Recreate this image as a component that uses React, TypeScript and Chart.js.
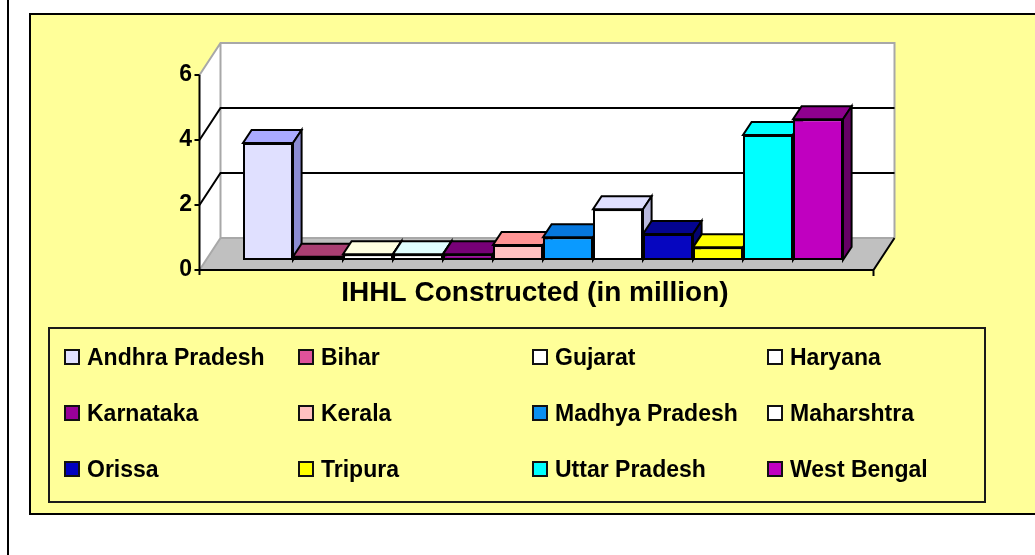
import React, { useEffect, useRef } from 'react';
import { Chart, registerables } from 'chart.js';

Chart.register(...registerables);

const CATEGORY = 'IHHL Constructed (in million)';
const STATES = [
  'Andhra Pradesh', 'Bihar', 'Gujarat', 'Haryana',
  'Karnataka', 'Kerala', 'Madhya Pradesh', 'Maharshtra',
  'Orissa', 'Tripura', 'Uttar Pradesh', 'West Bengal',
];
const VALUES = [3.6, 0.1, 0.18, 0.18, 0.18, 0.46, 0.7, 1.56, 0.8, 0.39, 3.85, 4.33];
const FRONT_COLORS = [
  '#E0E0FF', '#E0529A', '#FFFFFF', '#FFFFFF',
  '#990099', '#FFC0C0', '#0A9AFF', '#FFFFFF',
  '#0606C0', '#FFFF00', '#00FFFF', '#C000C0',
];
const TOP_COLORS = [
  '#AAAAFF', '#AA3F73', '#FFFFE0', '#E0FFFF',
  '#770077', '#FF9494', '#0677DD', '#E0E0FF',
  '#040490', '#FFFF00', '#00FFFF', '#8E008E',
];
const SIDE_COLORS = [
  '#8C8CD4', '#80305A', '#D8D8B8', '#B8D8D8',
  '#5A005A', '#D07878', '#055CAA', '#B8B8DD',
  '#030370', '#C8C800', '#00C8C8', '#660066',
];
const LEGEND_COLORS = [
  '#E0E0FF', '#E0529A', '#FFFFFF', '#FFFFFF',
  '#990099', '#FFC0C0', '#0A90F0', '#FFFFFF',
  '#0000C0', '#FFFF00', '#00FFFF', '#C000C0',
];
const Y_MIN = 0;
const Y_MAX = 6;
const Y_STEP = 2;

const FONT = '"Liberation Sans", Arial, Helvetica, sans-serif';

// 3D projection offsets relative to the bar plane (chart area)
const FRONT = { dx: -6.5, dy: 10 };
const BACK = { dx: 14.5, dy: -22 };
const BAR_DEPTH = { dx: 8.6, dy: -13 };

const threeD = {
  id: 'threeD',
  beforeDatasetsDraw(chart: any) {
    const { ctx, chartArea } = chart;
    const y = chart.scales.y;
    const { left, right } = chartArea;
    const fl = left + FRONT.dx, fr = right + FRONT.dx;
    const bl = left + BACK.dx, br = right + BACK.dx;
    const yf = (v: number) => y.getPixelForValue(v) + FRONT.dy;
    const yb = (v: number) => y.getPixelForValue(v) + BACK.dy;
    ctx.save();
    // back wall
    ctx.fillStyle = '#FFFFFF';
    ctx.fillRect(bl, yb(Y_MAX), br - bl, yb(Y_MIN) - yb(Y_MAX));
    // left wall
    ctx.beginPath();
    ctx.moveTo(fl, yf(Y_MAX));
    ctx.lineTo(bl, yb(Y_MAX));
    ctx.lineTo(bl, yb(Y_MIN));
    ctx.lineTo(fl, yf(Y_MIN));
    ctx.closePath();
    ctx.fill();
    // floor
    ctx.fillStyle = '#C0C0C0';
    ctx.beginPath();
    ctx.moveTo(fl, yf(Y_MIN));
    ctx.lineTo(fr, yf(Y_MIN));
    ctx.lineTo(br, yb(Y_MIN));
    ctx.lineTo(bl, yb(Y_MIN));
    ctx.closePath();
    ctx.fill();
    // gray wall edges
    ctx.strokeStyle = '#A8A8A8';
    ctx.lineWidth = 2;
    ctx.beginPath();
    ctx.moveTo(fl, yf(Y_MAX));
    ctx.lineTo(bl, yb(Y_MAX));
    ctx.lineTo(br, yb(Y_MAX));
    ctx.lineTo(br, yb(Y_MIN));
    ctx.moveTo(bl, yb(Y_MAX));
    ctx.lineTo(bl, yb(Y_MIN));
    ctx.lineTo(br, yb(Y_MIN));
    ctx.moveTo(fl, yf(Y_MIN));
    ctx.lineTo(bl, yb(Y_MIN));
    ctx.stroke();
    // gridlines
    ctx.strokeStyle = '#000000';
    ctx.lineWidth = 2;
    ctx.beginPath();
    for (let v = Y_MIN + Y_STEP; v < Y_MAX; v += Y_STEP) {
      ctx.moveTo(fl, yf(v));
      ctx.lineTo(bl, yb(v));
      ctx.lineTo(br, yb(v));
    }
    ctx.stroke();
    // front axis and floor front edge
    ctx.beginPath();
    ctx.moveTo(fl, yf(Y_MAX));
    ctx.lineTo(fl, yf(Y_MIN) + 5);
    for (let v = Y_MIN; v <= Y_MAX; v += Y_STEP) {
      ctx.moveTo(fl - 5, yf(v));
      ctx.lineTo(fl, yf(v));
    }
    ctx.moveTo(fl, yf(Y_MIN));
    ctx.lineTo(fr, yf(Y_MIN));
    ctx.lineTo(br, yb(Y_MIN));
    ctx.moveTo(fr, yf(Y_MIN));
    ctx.lineTo(fr, yf(Y_MIN) + 6);
    ctx.stroke();
    ctx.restore();
  },
  beforeDatasetDraw() {
    return false;
  },
  afterDatasetsDraw(chart: any) {
    const { ctx } = chart;
    for (let i = 0; i < chart.data.datasets.length; i++) {
      const meta = chart.getDatasetMeta(i);
      const el = meta.data[0];
      if (!el) continue;
      el.draw(ctx, chart.chartArea);
      const { x, y: yt, base: yb, width } = el.getProps(['x', 'y', 'base', 'width'], true);
      const x0 = x - width / 2;
      const x1 = x + width / 2;
      const { dx, dy } = BAR_DEPTH;
      ctx.save();
      ctx.lineWidth = 2;
      ctx.strokeStyle = '#000000';
      ctx.lineJoin = 'miter';
      // top face
      ctx.fillStyle = TOP_COLORS[i];
      ctx.beginPath();
      ctx.moveTo(x0, yt);
      ctx.lineTo(x1, yt);
      ctx.lineTo(x1 + dx, yt + dy);
      ctx.lineTo(x0 + dx, yt + dy);
      ctx.closePath();
      ctx.fill();
      ctx.stroke();
      // side face
      ctx.fillStyle = SIDE_COLORS[i];
      ctx.beginPath();
      ctx.moveTo(x1, yt);
      ctx.lineTo(x1 + dx, yt + dy);
      ctx.lineTo(x1 + dx, yb + dy);
      ctx.lineTo(x1, yb);
      ctx.closePath();
      ctx.fill();
      ctx.stroke();
      ctx.restore();
    }
  },
};

const LEGEND_COL_X = [64, 298, 532, 767];
const LEGEND_ROW_Y = [357, 413, 469];

export default function App() {
  const canvasRef = useRef<HTMLCanvasElement | null>(null);

  useEffect(() => {
    const canvas = canvasRef.current;
    if (!canvas) return;
    const chart = new Chart(canvas, {
      type: 'bar',
      data: {
        labels: [CATEGORY],
        datasets: STATES.map((s, i) => ({
          label: s,
          data: [VALUES[i]],
          backgroundColor: FRONT_COLORS[i],
          borderColor: '#000000',
          borderWidth: 2,
          borderSkipped: false,
          categoryPercentage: 600 / 674,
          barPercentage: 1,
        })),
      },
      options: {
        responsive: false,
        animation: false,
        devicePixelRatio: 1,
        layout: { padding: { top: 65, right: 155, left: 0, bottom: 0 } },
        plugins: {
          legend: { display: false },
          tooltip: { enabled: false },
        },
        scales: {
          x: {
            grid: { display: false, drawTicks: false },
            border: { display: false },
            ticks: {
              color: '#000000',
              font: { family: FONT, size: 28, weight: 'bold' },
              padding: 16,
              labelOffset: -8,
              maxRotation: 0,
            },
            afterFit: (s: any) => { s.height = 295; },
          },
          y: {
            min: Y_MIN,
            max: Y_MAX,
            grid: { display: false, drawTicks: false },
            border: { display: false },
            ticks: {
              stepSize: Y_STEP,
              color: '#000000',
              font: { family: FONT, size: 23, weight: 'bold' },
              padding: 14,
              labelOffset: 10,
            },
            afterFit: (s: any) => { s.width = 206; },
          },
        },
      },
      plugins: [threeD],
    });
    return () => chart.destroy();
  }, []);

  return (
    <div style={{ position: 'fixed', left: 0, top: 0, width: 1035, height: 555, background: '#FFFFFF', overflow: 'hidden', fontFamily: FONT }}>
      <div style={{ position: 'absolute', left: 7, top: -10, width: 2, height: 580, background: '#000000' }} />
      <div style={{ position: 'absolute', left: 29, top: 13, width: 1100, height: 502, background: '#FFFF99', border: '2px solid #000000', boxSizing: 'border-box' }} />
      <canvas ref={canvasRef} width={1035} height={555} style={{ position: 'absolute', left: 0, top: 0, width: 1035, height: 555 }} />
      <div style={{ position: 'absolute', left: 48, top: 327, width: 938, height: 176, border: '2px solid #1A1A1A', boxSizing: 'border-box' }} />
      {STATES.map((s, i) => {
        const cx = LEGEND_COL_X[i % 4];
        const cy = LEGEND_ROW_Y[Math.floor(i / 4)];
        return (
          <React.Fragment key={s}>
            <div style={{ position: 'absolute', left: cx, top: cy - 8, width: 16, height: 16, background: LEGEND_COLORS[i], border: '2px solid #111111', boxSizing: 'border-box' }} />
            <div style={{ position: 'absolute', left: cx + 23, top: cy - 13, height: 26, lineHeight: '26px', fontSize: 23, fontWeight: 'bold', color: '#000000', whiteSpace: 'nowrap' }}>{s}</div>
          </React.Fragment>
        );
      })}
    </div>
  );
}
